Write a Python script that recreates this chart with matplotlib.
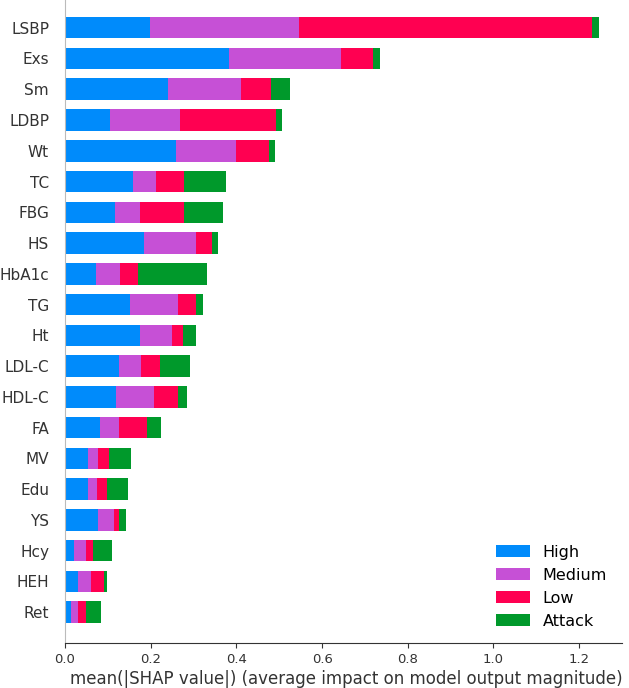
import matplotlib
matplotlib.use("Agg")
import matplotlib.pyplot as plt
import numpy as np

features = ["LSBP", "Exs", "Sm", "LDBP", "Wt", "TC", "FBG", "HS", "HbA1c", "TG",
            "Ht", "LDL-C", "HDL-C", "FA", "MV", "Edu", "YS", "Hcy", "HEH", "Ret"]
classes = ["High", "Medium", "Low", "Attack"]
colors = ["#008bfb", "#c650d6", "#ff0051", "#00992b"]

high = [0.199, 0.383, 0.240, 0.105, 0.258, 0.158, 0.117, 0.184, 0.073, 0.152,
        0.175, 0.125, 0.120, 0.081, 0.053, 0.053, 0.078, 0.022, 0.030, 0.013]
medium = [0.346, 0.262, 0.170, 0.164, 0.140, 0.055, 0.058, 0.121, 0.055, 0.111,
          0.074, 0.052, 0.088, 0.044, 0.025, 0.022, 0.036, 0.027, 0.030, 0.017]
low = [0.685, 0.073, 0.071, 0.223, 0.077, 0.064, 0.102, 0.037, 0.042, 0.042,
       0.026, 0.045, 0.056, 0.067, 0.024, 0.023, 0.011, 0.017, 0.032, 0.018]
attack = [0.017, 0.017, 0.045, 0.015, 0.015, 0.098, 0.091, 0.015, 0.161, 0.017,
          0.030, 0.070, 0.020, 0.033, 0.053, 0.048, 0.018, 0.044, 0.006, 0.036]

fig = plt.figure(figsize=(6.29, 6.88), dpi=100)
ax = fig.add_axes([65 / 629, 45 / 688, (622 - 65) / 629, 643 / 688])

n = len(features)
y = np.arange(n)[::-1]
left = np.zeros(n)
for name, vals, c in zip(classes, [high, medium, low, attack], colors):
    ax.barh(y, vals, height=0.7, left=left, color=c, label=name, align="center")
    left += np.array(vals)

ax.set_ylim(-1, n - 0.1)
ax.set_xlim(0, 1.3)
ax.set_yticks(y)
ax.set_yticklabels(features, fontsize=11, color="#333333")
ax.tick_params("y", pad=8)
ax.set_xticks([0.0, 0.2, 0.4, 0.6, 0.8, 1.0, 1.2])
ax.tick_params("x", labelsize=9.5, labelcolor="#333333", color="#333333")
ax.yaxis.set_ticks_position("none")
ax.spines["top"].set_visible(False)
ax.spines["right"].set_visible(False)
ax.spines["left"].set_color("#bbbbbb")
ax.spines["bottom"].set_color("#333333")
ax.set_xlabel("mean(|SHAP value|) (average impact on model output magnitude)",
              fontsize=12, color="#333333", labelpad=3)
ax.xaxis.label.set_x(0.505)
ax.legend(frameon=False, loc="lower right", fontsize=11.5, handlelength=2.1,
          bbox_to_anchor=(0.999, 0.0))

fig.savefig("out.png", dpi=100)
